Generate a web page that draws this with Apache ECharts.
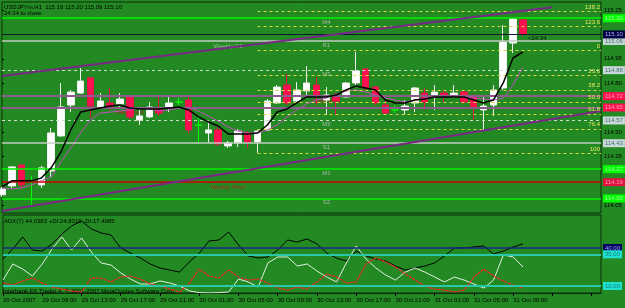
<!DOCTYPE html>
<html><head><meta charset="utf-8">
<script src="https://cdn.jsdelivr.net/npm/echarts@6/dist/echarts.min.js"></script>
<style>html,body{margin:0;padding:0;background:#238a23;}#c{width:625px;height:308px;}</style>
</head><body><div id="c"></div>
<script>
// ---- data ----
const timeLabels = ['29 Oct 2007','29 Oct 09:00','29 Oct 13:00','29 Oct 17:00','29 Oct 21:00','30 Oct 01:00','30 Oct 05:00','30 Oct 09:00','30 Oct 13:00','30 Oct 17:00','30 Oct 21:00','31 Oct 01:00','31 Oct 05:00','31 Oct 09:00'];
const priceTicks = [114.05,114.35,114.50,114.80,114.95,115.25];
const opens  = [114.112,114.167,114.296,114.192,114.173,114.259,114.475,114.665,114.739,114.832,114.653,114.678,114.672,114.715,114.573,114.592,114.641,114.647,114.684,114.696,114.542,114.493,114.512,114.413,114.432,114.493,114.438,114.512,114.678,114.788,114.690,114.752,114.788,114.696,114.715,114.715,114.801,114.887,114.776,114.665,114.635,114.635,114.678,114.739,114.715,114.739,114.727,114.745,114.715,114.635,114.665,114.770,115.047,115.19];
const closes = [114.148,114.284,114.173,114.192,114.278,114.493,114.653,114.745,114.813,114.659,114.690,114.659,114.702,114.592,114.598,114.653,114.616,114.678,114.684,114.512,114.542,114.512,114.425,114.432,114.505,114.438,114.505,114.690,114.776,114.678,114.758,114.801,114.721,114.727,114.690,114.801,114.875,114.770,114.678,114.616,114.635,114.659,114.770,114.684,114.745,114.721,114.739,114.684,114.647,114.659,114.758,115.053,115.195,115.10];
const lows   = [114.099,114.155,114.148,114.050,114.155,114.222,114.468,114.622,114.733,114.585,114.647,114.635,114.653,114.579,114.542,114.585,114.598,114.622,114.665,114.493,114.432,114.432,114.413,114.401,114.407,114.401,114.370,114.505,114.672,114.665,114.684,114.708,114.665,114.604,114.604,114.708,114.788,114.758,114.665,114.610,114.616,114.604,114.622,114.635,114.635,114.678,114.708,114.672,114.573,114.512,114.598,114.758,114.985,115.09];
const highs  = [114.161,114.290,114.296,114.229,114.290,114.524,114.801,114.758,114.893,114.838,114.739,114.770,114.739,114.721,114.635,114.684,114.715,114.715,114.708,114.727,114.592,114.561,114.536,114.444,114.518,114.505,114.512,114.702,114.788,114.856,114.807,114.905,114.838,114.776,114.739,114.807,114.992,114.893,114.782,114.690,114.665,114.696,114.776,114.770,114.788,114.758,114.788,114.758,114.733,114.721,114.788,115.158,115.201,115.20];
const maFast = [114.161,114.198,114.198,114.198,114.216,114.278,114.376,114.512,114.622,114.635,114.647,114.659,114.665,114.647,114.641,114.641,114.641,114.647,114.653,114.635,114.592,114.561,114.536,114.487,114.487,114.487,114.493,114.542,114.622,114.641,114.678,114.715,114.715,114.715,114.727,114.758,114.782,114.770,114.758,114.696,114.678,114.678,114.696,114.702,114.715,114.715,114.715,114.715,114.696,114.678,114.696,114.801,114.955,114.992];
const maSlow = [114.155,114.148,114.155,114.173,114.198,114.222,114.315,114.401,114.493,114.573,114.616,114.622,114.628,114.635,114.647,114.641,114.628,114.635,114.647,114.653,114.628,114.598,114.567,114.530,114.505,114.493,114.493,114.512,114.542,114.592,114.635,114.672,114.696,114.708,114.733,114.752,114.758,114.745,114.727,114.708,114.696,114.684,114.696,114.708,114.715,114.721,114.721,114.715,114.708,114.702,114.696,114.708,114.788,114.899];
const adx     = [31.3,39.2,48.7,38.4,37.6,43.2,51,57.4,61.3,55,51.8,50.3,40,36,32.1,27.4,24.2,22.6,21,29,36,45.5,46.3,52.6,42.4,33.7,32.1,32.9,38.4,46.3,44.7,47.1,43.2,36,32,29.7,37.6,33.7,31.3,29.7,25.8,22.6,24.2,25.8,28.2,33.7,40,40,40.8,41.6,35.3,37.6,40.8,43.2];
const plusDI  = [14.7,27.4,23.4,17.9,27.4,39.2,48.7,38.4,47.9,36.8,28.2,26.6,20.3,15.5,11.6,11.6,14,12.4,10,6.1,4.8,4.6,4.8,5.3,15.5,13.2,9.2,28.2,32.9,32.9,25.8,27.4,21.8,17.1,13.2,28.2,41.6,31.3,24.2,18.7,14.7,21,24.2,21,17.1,13.2,17.1,14.7,11.6,8.4,14.7,34.5,32.9,25];
const minusDI = [12.4,10.8,14,16.3,12.4,9.2,7.6,6.1,5.3,16.3,16.3,13.2,17.1,17.9,15.5,11.6,10,7.6,5.3,12.4,23.4,17.9,16.3,22.6,17.1,14.7,15.5,12.4,8.4,6.8,9.2,7.6,13.2,19.5,17.1,12.4,13.2,27.4,32.1,29,25,19.5,14.7,10,7.6,6.8,5.3,6.8,17.1,23.4,17.9,14,10.8,8.4];
const pivotNames  = ['M4','R1','M3','M2','S1','M1','S2'];
const pivotValues = [115.20,115.06,114.88,114.57,114.43,114.27,114.09];
const dailyPivots = [114.72,114.65];
const weeklyPivot = 114.19;
const bidPrice = 115.10;
const fibNames  = ['138.2','123.6','0','23.6','38.2','50.0','61.8','76.4','100'];
const fibValues = [115.241,115.149,115.00,114.851,114.759,114.685,114.611,114.519,114.37];
const fibStartBar = 26;
const upperTrend = [[0,114.844],[56,115.268]];
const lowerTrend = [[0,114.013],[60.9,114.628]];
const adxLevels = [40,35,10];
const annoNames = ['Weekly R1','Weekly Pivot','Daily Pivot','Daily Pivot'];
const annoBars  = [23,23,13,33];
const annoValues= [115.06,114.19,114.65,114.72];

// ---- styles ----
const FONT = 'Liberation Sans';
const XMAX = 60.95;
const pivotKind = {M4:'lime',M1:'lime',S2:'lime',R1:'silver',S1:'silver',M3:'dash',M2:'dash'};
const lineStyles = {
  lime:{color:'#00f000',width:1.5,type:'solid'},
  silver:{color:'#c4ccc4',width:1.5,type:'solid'},
  dash:{color:'#c8e0c8',width:1,type:[3,3]}
};
const boxStyles = {
  lime:{backgroundColor:'#00ff00',color:'#9cff9c'},
  silver:{backgroundColor:'#c8d8d8',color:'#4a7070'},
  dash:{backgroundColor:'#c8d8d8',color:'#4a7070'}
};
function box(style){
  return Object.assign({show:true,position:'end',distance:2,fontSize:6,fontFamily:FONT,
    padding:[1,2,0,2],lineHeight:7,formatter:p=>p.value.toFixed(2)},style);
}
const mainLines = [];
pivotNames.forEach((n,i)=>{
  const k = pivotKind[n];
  mainLines.push({yAxis:pivotValues[i],lineStyle:lineStyles[k],label:box(boxStyles[k])});
});
dailyPivots.forEach(v=>mainLines.push({yAxis:v,lineStyle:{color:'#8c5c8c',width:2,type:'solid'},
  label:box({backgroundColor:'#ff1050',color:'#ffa0b0'})}));
mainLines.push({yAxis:weeklyPivot,lineStyle:{color:'#d00000',width:1.5,type:'solid'},
  label:box({backgroundColor:'#e01040',color:'#ffa0b0'})});
mainLines.push({yAxis:bidPrice,lineStyle:{color:'#0a1a30',width:1,type:'solid'},
  label:box({backgroundColor:'#000040',color:'#b0b0ff'})});
fibNames.forEach((n,i)=>{
  mainLines.push([
    {coord:[fibStartBar,fibValues[i]],name:n,lineStyle:{color:'#d8d840',width:1,type:[3,3]},
     label:{show:true,position:'insideEndTop',formatter:'{b}',color:'#e8e860',fontSize:6,fontFamily:FONT,distance:1}},
    {coord:[XMAX,fibValues[i]]}
  ]);
});
[upperTrend,lowerTrend].forEach(t=>{
  mainLines.push([{coord:t[0],lineStyle:{color:'#7a2888',width:2,type:'solid'},label:{show:false}},{coord:t[1]}]);
});

const adxLineItems = adxLevels.map((v,i)=> i===0
  ? {yAxis:v,lineStyle:{color:'#1a2a80',width:1.5,type:'solid'},label:box({backgroundColor:'#000060',color:'#a0a0ff'})}
  : {yAxis:v,lineStyle:{color:'#28c8a8',width:2,type:'solid'},label:box({backgroundColor:'#20e0d0',color:'#108080'})});

const chart = echarts.init(document.getElementById('c'),null,{renderer:'canvas'});
chart.setOption({
  animation:false,
  backgroundColor:'#238a23',
  grid:[
    {left:2,top:2,width:599,height:211,show:true,borderColor:'#0c2c0c',borderWidth:1,backgroundColor:'transparent'},
    {left:2,top:215,width:599,height:78,show:true,borderColor:'#0c2c0c',borderWidth:1,backgroundColor:'transparent'}
  ],
  xAxis:[
    {type:'value',gridIndex:0,min:0,max:XMAX,show:false,splitLine:{show:false}},
    {type:'value',gridIndex:1,min:0,max:XMAX,interval:4,splitLine:{show:false},
     axisLine:{show:true,lineStyle:{color:'#0c2c0c'}},
     axisTick:{show:true,length:3,lineStyle:{color:'#000'}},
     axisLabel:{show:true,showMaxLabel:false,align:'left',margin:4,fontSize:6,fontFamily:FONT,color:'#000',
       formatter:v=>timeLabels[v/4]||''}}
  ],
  yAxis:[
    {type:'value',gridIndex:0,position:'right',min:114.0,max:115.3,splitLine:{show:false},
     axisLine:{show:false},
     axisTick:{show:true,length:2,customValues:priceTicks,lineStyle:{color:'#000'}},
     axisLabel:{show:true,customValues:priceTicks,margin:3,fontSize:6,fontFamily:FONT,color:'#000',
       formatter:v=>v.toFixed(2)}},
    {type:'value',gridIndex:1,position:'right',min:4.5,max:66,splitLine:{show:false},
     axisLine:{show:false},axisTick:{show:false},axisLabel:{show:false}}
  ],
  series:[
    {type:'scatter',xAxisIndex:0,yAxisIndex:0,symbolSize:0,z:1,silent:true,
     data:pivotNames.map((n,i)=>({name:n,value:[33,pivotValues[i]]})),
     label:{show:true,position:'bottom',distance:1,formatter:'{b}',color:'#c8c8c8',fontSize:6,fontFamily:FONT},
     markLine:{silent:true,symbol:['none','none'],data:mainLines}},
    {type:'scatter',xAxisIndex:0,yAxisIndex:0,symbolSize:0,z:1,silent:true,
     data:annoNames.map((n,i)=>({name:n,value:[annoBars[i],annoValues[i]],
       label:{color:n==='Weekly R1'?'#b8c0b8':'#d01020'}})),
     label:{show:true,position:'bottom',distance:2,formatter:'{b}',fontSize:6,fontFamily:FONT}},
    {type:'candlestick',xAxisIndex:0,yAxisIndex:0,z:3,barWidth:7,
     encode:{x:0,y:[1,2,3,4]},
     data:opens.map((o,i)=>[i,o,closes[i],lows[i],highs[i]]),
     itemStyle:{color:'#ffffff',color0:'#ff1050',borderColor:'#f0f0f0',borderColor0:'#e8104a',
       borderColorDoji:'#00ff00',borderWidth:1}},
    {type:'line',xAxisIndex:0,yAxisIndex:0,z:4,showSymbol:false,
     data:maSlow.map((v,i)=>[i,v]),lineStyle:{color:'#c050c0',width:1}},
    {type:'line',xAxisIndex:0,yAxisIndex:0,z:5,showSymbol:false,
     data:maFast.map((v,i)=>[i,v]),lineStyle:{color:'#000000',width:1.5}},
    {type:'line',xAxisIndex:1,yAxisIndex:1,z:4,showSymbol:false,
     data:adx.map((v,i)=>[i,v]),lineStyle:{color:'#000000',width:1},
     markLine:{silent:true,symbol:['none','none'],data:adxLineItems}},
    {type:'line',xAxisIndex:1,yAxisIndex:1,z:4,showSymbol:false,
     data:plusDI.map((v,i)=>[i,v]),lineStyle:{color:'#e0f0e0',width:1}},
    {type:'line',xAxisIndex:1,yAxisIndex:1,z:4,showSymbol:false,
     data:minusDI.map((v,i)=>[i,v]),lineStyle:{color:'#ff2030',width:1.2,type:[3,1]}}
  ],
  graphic:[
    {type:'text',left:4,top:4,style:{text:'USDJPYm,H1  115.19 115.20 115.09 115.10',font:'6px "'+FONT+'"',fill:'#000'}},
    {type:'text',left:4,top:10,style:{text:'24:34 to close',font:'6px "'+FONT+'"',fill:'#000'}},
    {type:'text',left:528,top:35,style:{text:'<24:34',font:'6px "'+FONT+'"',fill:'#101010'}},
    {type:'text',left:4,top:218,style:{text:'ADX(7) 44.0383 +DI:24.8316 -DI:17.4985',font:'6px "'+FONT+'"',fill:'#000'}},
    {type:'text',left:3,top:288,style:{text:'Interbank FX Trader 4, \u00a9 2001-2007 MetaQuotes Software Corp.',font:'6px "'+FONT+'"',fill:'#000'}}
  ]
});
</script></body></html>
